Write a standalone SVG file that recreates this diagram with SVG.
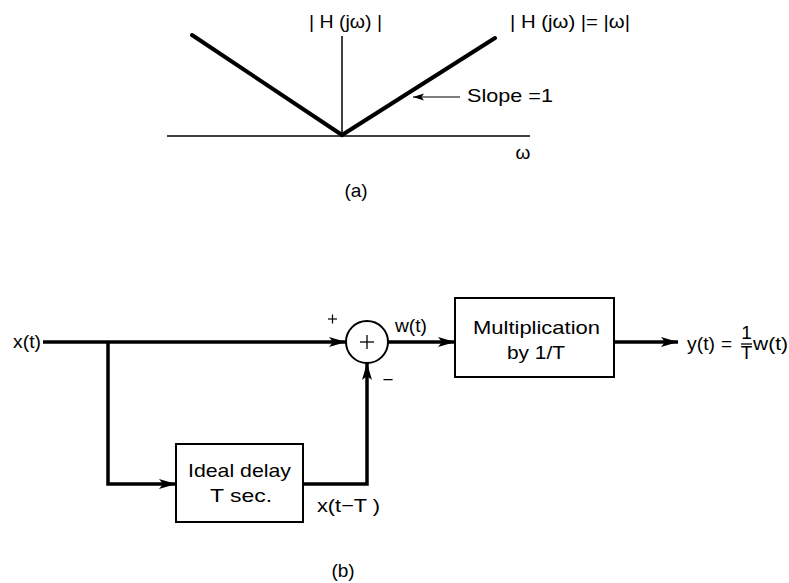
<svg xmlns="http://www.w3.org/2000/svg" width="789" height="583" viewBox="0 0 789 583">
<style>
  text { font-family: "Liberation Sans", Arial, sans-serif; fill: #000; }
  .t { font-size: 19px; }
  .box { fill: #fff; stroke: #000; stroke-width: 2; }
  .wire { fill: none; stroke: #000; stroke-width: 3.5; }
  .thin { fill: none; stroke: #000; stroke-width: 1.5; }
  .curve { fill: none; stroke: #000; stroke-width: 4; stroke-linecap: round; }
</style>
<defs>
  <marker id="arr" markerUnits="userSpaceOnUse" markerWidth="18" markerHeight="12" refX="17" refY="6" orient="auto">
    <path d="M0,1 L17,6 L0,11 L4,6 z" fill="#000"/>
  </marker>
  <marker id="arrs" markerUnits="userSpaceOnUse" markerWidth="12" markerHeight="8" refX="11" refY="4" orient="auto">
    <path d="M0,0.5 L11,4 L0,7.5 L2.5,4 z" fill="#000"/>
  </marker>
</defs>
<rect width="789" height="583" fill="#fff"/>

<!-- Part (a) -->
<g id="plot-a">
  <line x1="167" y1="136" x2="530" y2="136" class="thin"/>
  <line x1="342" y1="36" x2="342" y2="136" class="thin"/>
  <polyline points="192,35 342,135 495,38" class="curve" stroke-linejoin="miter"/>
  <line x1="460" y1="97" x2="413" y2="97" stroke="#000" stroke-width="1.2" marker-end="url(#arrs)"/>
  <text x="309" y="28" class="t" textLength="73" lengthAdjust="spacingAndGlyphs">| H (jω) |</text>
  <text x="510" y="28" class="t" textLength="120" lengthAdjust="spacingAndGlyphs">| H (jω) |= |ω|</text>
  <text x="467" y="102" class="t" textLength="86" lengthAdjust="spacingAndGlyphs">Slope =1</text>
  <text x="523" y="159" class="t" font-size="16" text-anchor="middle">ω</text>
  <text x="356" y="197" class="t" font-size="20" text-anchor="middle">(a)</text>
</g>

<!-- Part (b) -->
<g id="connectors">
  <line x1="43" y1="342" x2="346" y2="342" class="wire" marker-end="url(#arr)"/>
  <polyline points="108,342 108,484 176,484" class="wire" marker-end="url(#arr)"/>
  <polyline points="303,484 367,484 367,363" class="wire" marker-end="url(#arr)"/>
  <line x1="388" y1="342" x2="455" y2="342" class="wire" marker-end="url(#arr)"/>
  <line x1="614" y1="342" x2="678" y2="342" class="wire" marker-end="url(#arr)"/>
</g>

<g id="input">
  <text x="13" y="348" class="t" textLength="28" lengthAdjust="spacingAndGlyphs">x(t)</text>
</g>

<g id="summer">
  <circle cx="367" cy="342" r="21" fill="#fff" stroke="#000" stroke-width="2"/>
  <line x1="360" y1="342" x2="374" y2="342" stroke="#000" stroke-width="1.3"/>
  <line x1="367" y1="335" x2="367" y2="349" stroke="#000" stroke-width="1.3"/>
  <line x1="328" y1="319" x2="337" y2="319" stroke="#000" stroke-width="1.2"/>
  <line x1="332.5" y1="314.5" x2="332.5" y2="323.5" stroke="#000" stroke-width="1.2"/>
  <text x="395" y="332" class="t" textLength="32" lengthAdjust="spacingAndGlyphs">w(t)</text>
</g>
<g id="minus-label">
  <text x="388" y="386" class="t" text-anchor="middle" font-weight="normal" textLength="11" lengthAdjust="spacingAndGlyphs">−</text>
</g>

<g id="delay">
  <rect x="176" y="444" width="127" height="78" class="box"/>
  <text x="188" y="477" class="t" textLength="103" lengthAdjust="spacingAndGlyphs">Ideal delay</text>
  <text x="210" y="502" class="t" textLength="62" lengthAdjust="spacingAndGlyphs">T sec.</text>
  <text x="317" y="512" class="t" textLength="63" lengthAdjust="spacingAndGlyphs">x(t−T )</text>
</g>

<g id="multiplier">
  <rect x="455" y="298" width="159" height="79" class="box"/>
  <text x="473" y="334" class="t" textLength="127" lengthAdjust="spacingAndGlyphs">Multiplication</text>
  <text x="507" y="359" class="t" textLength="58" lengthAdjust="spacingAndGlyphs">by 1/T</text>
</g>

<g id="output">
  <text x="687" y="350" class="t" textLength="28" lengthAdjust="spacingAndGlyphs">y(t)</text>
  <text x="721" y="350" class="t">=</text>
  <text x="746.5" y="339" class="t" text-anchor="middle" font-size="17">1</text>
  <line x1="741" y1="344" x2="752" y2="344" stroke="#000" stroke-width="1.3"/>
  <text x="746.5" y="359" class="t" text-anchor="middle" font-size="17">T</text>
  <text x="753" y="350" class="t" textLength="35" lengthAdjust="spacingAndGlyphs">w(t)</text>
</g>

<text x="343" y="577" class="t" font-size="20" text-anchor="middle">(b)</text>
</svg>
